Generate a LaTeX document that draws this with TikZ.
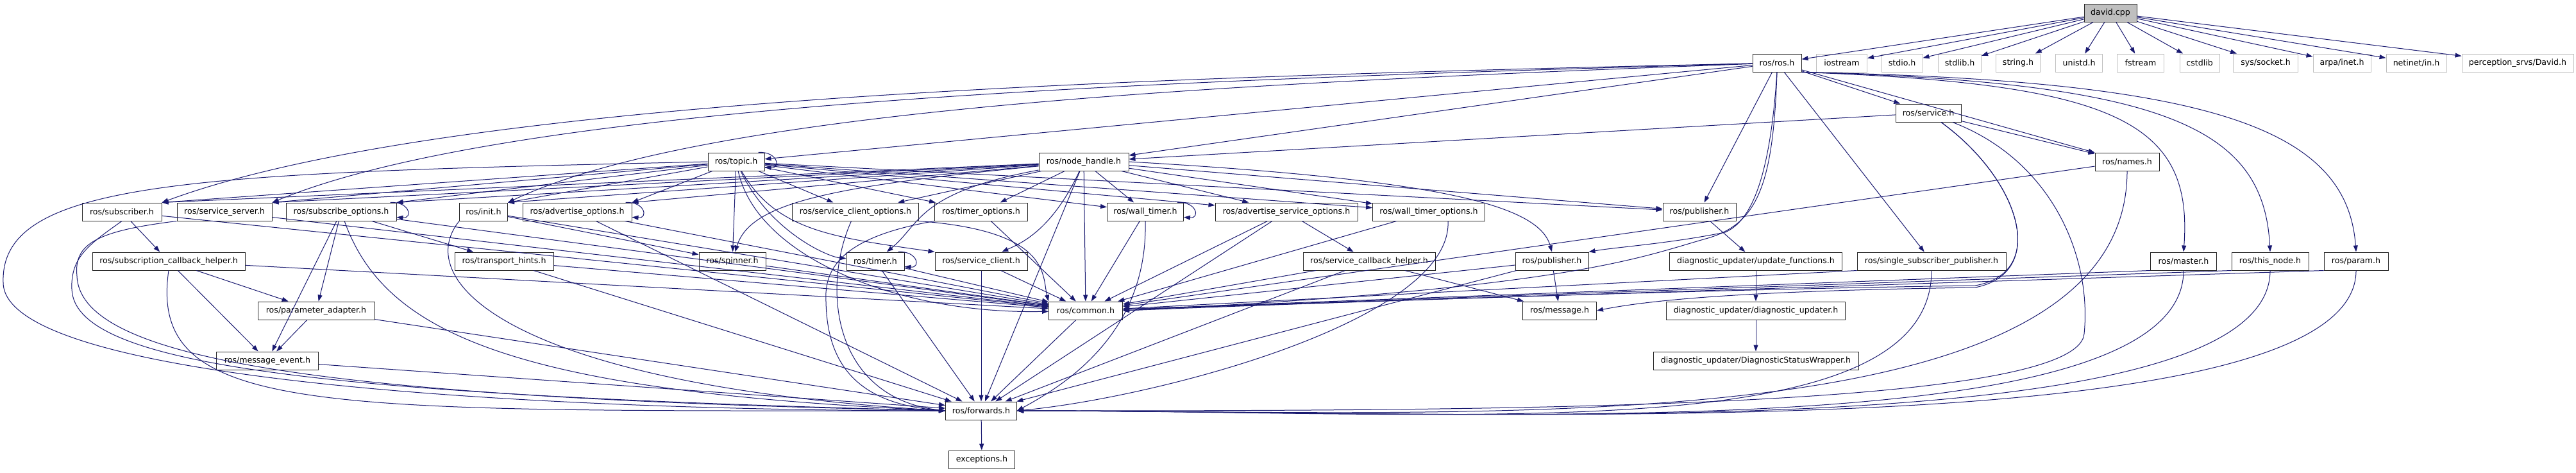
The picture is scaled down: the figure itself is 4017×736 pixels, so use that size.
\documentclass[tikz,border=0pt]{standalone}
\usepackage{fontspec}
\setmainfont{DejaVu Sans}
\usepackage{tikz}
\usetikzlibrary{arrows.meta}

\definecolor{edgeblue}{RGB}{25,25,112}
\definecolor{sysgray}{RGB}{191,191,191}
\definecolor{boxline}{RGB}{40,40,40}

\tikzset{
  hdr/.style={draw=boxline, fill=white, line width=1pt, minimum height=28, inner sep=0pt,
              font=\fontsize{12.6}{14}\selectfont},
  syshdr/.style={hdr, draw=sysgray},
  srcfile/.style={hdr, fill=sysgray},
  dep/.style={draw=edgeblue, line width=1pt, -{Triangle[length=10pt,width=7pt]}}
}

\begin{document}
\begin{tikzpicture}[x=1pt, y=1pt]

  \useasboundingbox (0,0) rectangle (4017,-736);

  %source file
  \node[srcfile, minimum width=82] (david) at (3291,-20) {david.cpp};

  %includes of david.cpp
  \def\ry{98};
  \node[hdr, minimum width=76] (rosh) at (2771,-\ry) {ros/ros.h};
  \foreach \cx/\w/\name/\lbl in {2872/79/iostream/iostream, 2966/64/stdioh/stdio.h, 3056/67/stdlibh/stdlib.h,
      3147/69/stringh/string.h, 3242/73/unistdh/unistd.h, 3338/73/fstream/fstream, 3430/62/cstdlib/cstdlib,
      3533/101/socketh/{sys/socket.h}, 3652/90/ineth/{arpa/inet.h}, 3768/94/netinh/{netinet/in.h},
      3926/174/davidh/{perception\_srvs/David.h}}{
    \node[syshdr, minimum width=\w] (\name) at (\cx,-\ry) {\lbl};
  }

  \node[hdr, minimum width=102] (serviceh) at (3007,-176) {ros/service.h};

  \def\ry{252};
  \foreach \cx/\w/\name/\lbl in {1148/88/topich/{ros/topic.h}, 1690/140/nodehandle/{ros/node\_handle.h},
      3317/100/namesh/{ros/names.h}}{
    \node[hdr, minimum width=\w] (\name) at (\cx,-\ry) {\lbl};
  }

  \def\ry{330};
  \foreach \cx/\w/\name/\lbl in {190/124/subscriberh/{ros/subscriber.h}, 350/148/srvserver/{ros/service\_server.h},
      532/172/subopts/{ros/subscribe\_options.h}, 754/75/inith/{ros/init.h},
      900/170/advopts/{ros/advertise\_options.h}, 1334/197/srvclientopts/{ros/service\_client\_options.h},
      1530/145/timeropts/{ros/timer\_options.h}, 1786/119/walltimer/{ros/wall\_timer.h},
      2006/222/advsrvopts/{ros/advertise\_service\_options.h}, 2228/175/walltimeropts/{ros/wall\_timer\_options.h},
      2650/114/pubdiag/{ros/publisher.h}}{
    \node[hdr, minimum width=\w] (\name) at (\cx,-\ry) {\lbl};
  }

  \def\ry{407};
  \foreach \cx/\w/\name/\lbl in {263/238/subcbhelper/{ros/subscription\_callback\_helper.h},
      786/154/transporthints/{ros/transport\_hints.h}, 1142/104/spinnerh/{ros/spinner.h},
      1365/90/timerh/{ros/timer.h}, 1530/144/srvclient/{ros/service\_client.h},
      2135/206/srvcbhelper/{ros/service\_callback\_helper.h}, 2420/114/publisherh/{ros/publisher.h},
      2738/269/updatefuncs/{diagnostic\_updater/update\_functions.h},
      3012/232/sspub/{ros/single\_subscriber\_publisher.h}, 3405/103/masterh/{ros/master.h},
      3540/120/thisnode/{ros/this\_node.h}, 3674/100/paramh/{ros/param.h}}{
    \node[hdr, minimum width=\w] (\name) at (\cx,-\ry) {\lbl};
  }

  \def\ry{484};
  \foreach \cx/\w/\name/\lbl in {493/182/paramadapter/{ros/parameter\_adapter.h}, 1693/115/commonh/{ros/common.h},
      2432/115/messageh/{ros/message.h}, 2738/279/diagupdater/{diagnostic\_updater/diagnostic\_updater.h}}{
    \node[hdr, minimum width=\w] (\name) at (\cx,-\ry) {\lbl};
  }

  \def\ry{562};
  \foreach \cx/\w/\name/\lbl in {417/159/msgevent/{ros/message\_event.h},
      2738/320/statuswrapper/{diagnostic\_updater/DiagnosticStatusWrapper.h}}{
    \node[hdr, minimum width=\w] (\name) at (\cx,-\ry) {\lbl};
  }

  \node[hdr, minimum width=111] (forwardsh) at (1530,-640) {ros/forwards.h};
  \node[hdr, minimum width=103] (exceptionsh) at (1531,-716) {exceptions.h};

  %straight includes
  \foreach \a/\b in {david/rosh, david/iostream, david/stdioh, david/stdlibh, david/stringh, david/unistdh,
      david/fstream, david/cstdlib, david/socketh, david/ineth, david/netinh, david/davidh,
      rosh/topich, rosh/nodehandle, rosh/serviceh, rosh/namesh, rosh/sspub, rosh/pubdiag,
      serviceh/nodehandle, serviceh/namesh, namesh/commonh,
      topich/srvclientopts, topich/timeropts, topich/walltimer, topich/advsrvopts, topich/walltimeropts,
      topich/pubdiag, topich/spinnerh,
      nodehandle/srvclientopts, nodehandle/timeropts, nodehandle/walltimer, nodehandle/advsrvopts,
      nodehandle/walltimeropts, nodehandle/pubdiag, nodehandle/commonh, nodehandle/forwardsh,
      subscriberh/subcbhelper, subscriberh/commonh, srvserver/commonh, subopts/transporthints, subopts/msgevent,
      subopts/paramadapter, subopts/commonh, inith/spinnerh, inith/commonh, advopts/commonh, advopts/forwardsh,
      timeropts/commonh, walltimer/commonh, advsrvopts/srvcbhelper, advsrvopts/commonh, advsrvopts/forwardsh,
      walltimeropts/commonh, pubdiag/updatefuncs,
      subcbhelper/paramadapter, subcbhelper/msgevent, subcbhelper/commonh, transporthints/commonh,
      transporthints/forwardsh, spinnerh/commonh, timerh/commonh, timerh/forwardsh, srvclient/commonh,
      srvclient/forwardsh, srvcbhelper/messageh, srvcbhelper/commonh, srvcbhelper/forwardsh, publisherh/messageh,
      publisherh/commonh, publisherh/forwardsh, updatefuncs/diagupdater,
      paramadapter/msgevent, paramadapter/forwardsh, commonh/forwardsh, msgevent/forwardsh,
      diagupdater/statuswrapper, forwardsh/exceptionsh}{
    \draw[dep] (\a) -- (\b);
  }

  %fan into the upper right corners on the left
  \foreach \a in {topich, nodehandle}{
    \foreach \b in {subscriberh, srvserver, subopts, inith, advopts}{
      \draw[dep] (\a) -- (\b.north east);
    }
  }

  %right hand headers to common.h
  \foreach \a in {sspub, masterh, thisnode, paramh}{
    \draw[dep] (\a.south west) -- (commonh);
  }

  %long ones from ros.h
  \draw[dep] (rosh) .. controls (1800,-120) and (700,-150) .. (subscriberh.north east);
  \draw[dep] (rosh) .. controls (1800,-125) and (800,-160) .. (srvserver.north east);
  \draw[dep] (rosh) .. controls (1900,-130) and (1100,-170) .. (inith.north east);
  \draw[dep] (rosh.south east) .. controls (3300,-130) and (3420,-190) .. (masterh.north);
  \draw[dep] (rosh.south east) .. controls (3380,-128) and (3530,-200) .. (thisnode.north);
  \draw[dep] (rosh.south east) .. controls (3450,-125) and (3660,-200) .. (paramh.north);
  \draw[dep] (rosh.south) .. controls (2760,-280) and (2730,-345) .. (2690,-362)
                           .. controls (2600,-380) and (2520,-385) .. (publisherh.north east);
  \draw[dep] (rosh.south) .. controls (2765,-290) and (2740,-350) .. (2660,-372)
                           .. controls (2560,-400) and (2450,-450) .. (commonh.east);

  %service.h round the right of single_subscriber_publisher.h
  \draw[dep] (serviceh) .. controls (3150,-280) and (3195,-425) .. (3080,-445)
                        .. controls (2700,-450) and (2100,-470) .. (commonh.east);
  \draw[dep] (serviceh) .. controls (3150,-280) and (3195,-425) .. (3080,-448)
                        .. controls (2800,-452) and (2600,-462) .. (messageh.east);

  %topic.h and node_handle.h
  \draw[dep] (topich.west) .. controls (300,-270) and (0,-280) .. (5,-440)
                           .. controls (5,-600) and (900,-640) .. (forwardsh.west);
  \draw[dep] (topich) .. controls (1200,-360) and (1290,-400) .. (timerh);
  \draw[dep] (topich) .. controls (1180,-400) and (1400,-490) .. (commonh);
  \draw[dep] (topich) .. controls (1210,-360) and (1300,-370) .. (srvclient.north west);
  \draw[dep] (nodehandle) .. controls (1300,-290) and (1170,-315) .. (spinnerh);
  \draw[dep] (nodehandle) .. controls (1430,-300) and (1435,-350) .. (timerh);
  \draw[dep] (nodehandle) .. controls (1640,-360) and (1590,-380) .. (srvclient);
  \draw[dep] (nodehandle.east) .. controls (2250,-280) and (2400,-320) .. (publisherh.north);

  %options headers
  \draw[dep] (srvclientopts.south east) .. controls (1640,-360) and (1625,-430) .. (commonh.north west);
  \draw[dep] (srvclientopts) .. controls (1280,-450) and (1300,-620) .. (forwardsh.west);
  \draw[dep] (timeropts.south west) .. controls (1310,-370) and (1285,-420) .. (1288,-470)
                                    .. controls (1290,-580) and (1350,-630) .. (forwardsh.west);

  %down to forwards.h from the right
  \foreach \a in {sspub, masterh, thisnode, paramh}{
    \draw[dep] (\a.south) .. controls +(0,-280) and (2300,-640) .. (forwardsh.east);
  }
  \draw[dep] (namesh.south) .. controls +(0,-433) and (2300,-640) .. (forwardsh.east);
  \draw[dep] (serviceh) .. controls (3200,-250) and (3262,-400) .. (3250,-520)
                        .. controls (3240,-640) and (2300,-640) .. (forwardsh.east);
  \draw[dep] (walltimer.south) .. controls (1790,-520) and (1660,-600) .. (forwardsh.east);
  \draw[dep] ([xshift=30pt]walltimeropts.south) .. controls (2265,-500) and (1800,-620) .. (forwardsh.east);

  %down to forwards.h from the left
  \draw[dep] (subscriberh.south) .. controls (140,-380) and (110,-400) .. (112,-450)
                                 .. controls (115,-570) and (500,-615) .. (forwardsh.west);
  \draw[dep] (srvserver.south west) .. controls (150,-360) and (115,-380) .. (120,-430)
                                    .. controls (125,-560) and (500,-620) .. (forwardsh.west);
  \draw[dep] (subcbhelper.south) .. controls (230,-650) and (500,-640) .. (forwardsh.west);
  \draw[dep] (subopts) .. controls (600,-520) and (800,-610) .. (forwardsh.west);
  \draw[dep] (inith.south west) .. controls (640,-440) and (800,-600) .. (forwardsh.west);

  %self loops
  \foreach \name in {topich, subopts, advopts, walltimer, timerh}{
    \draw[dep] ([xshift=-10pt]\name.north east) .. controls +(30,2) and +(26,-2) .. ([yshift=6pt]\name.south east);
  }

\end{tikzpicture}
\end{document}
